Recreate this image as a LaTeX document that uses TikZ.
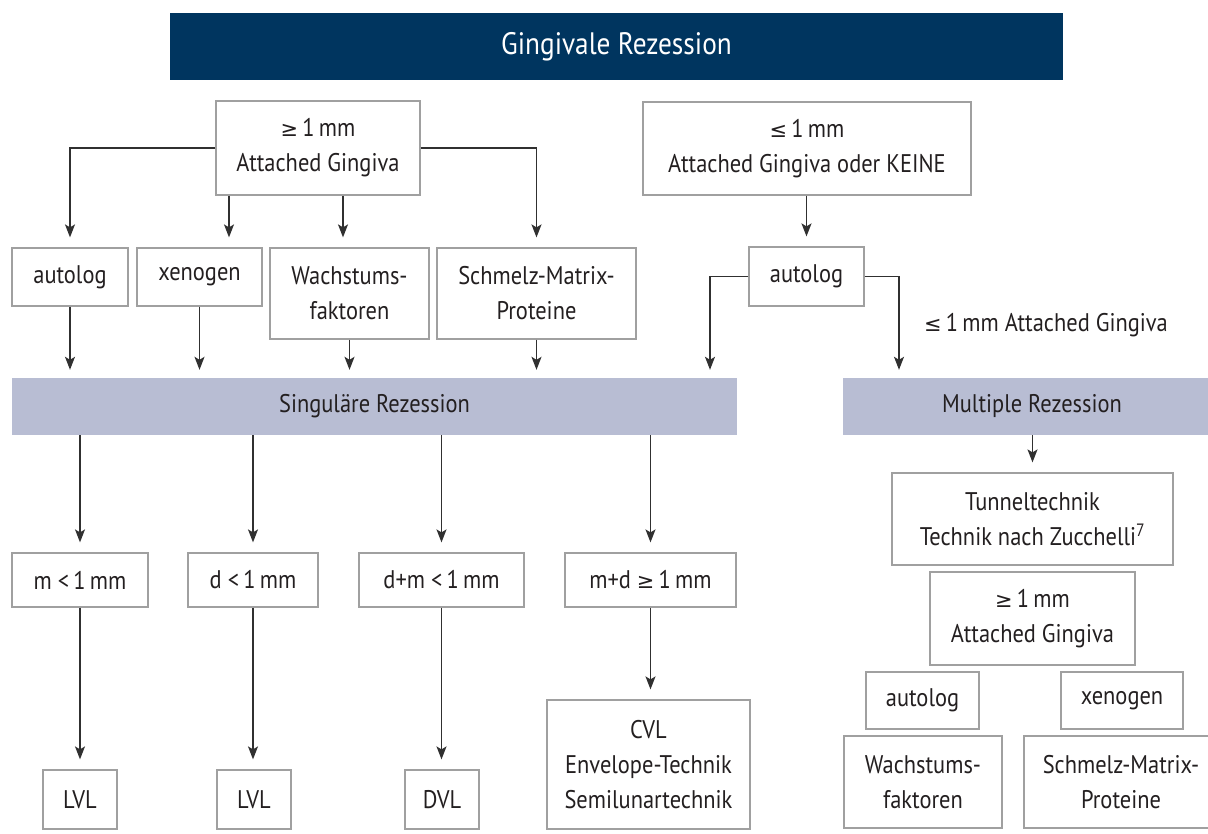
\documentclass[tikz,border=0pt]{standalone}
\usepackage{fontspec}
\setmainfont{PT Sans}[FakeStretch=0.88]
\newfontfamily\symf{DejaVu Sans}[Scale=0.82]
\newcommand\gesym{{\symf ≥}}
\newcommand\lesym{{\symf ≤}}
\usetikzlibrary{arrows.meta}
\definecolor{navy}{HTML}{00355F}
\definecolor{barblue}{HTML}{B8BDD3}
\definecolor{boxgray}{HTML}{A0A0A0}
\definecolor{linegray}{HTML}{303030}
\definecolor{txt}{HTML}{231F20}
\newcommand\fs{\fontsize{25.5}{35}\selectfont}
\newcommand\mybox[6]{\node[box, minimum width=#4pt, minimum height=#5pt] (#1) at (#2,#3) {#6};}
\tikzset{
  box/.style={draw=boxgray, line width=1.2pt, fill=white, inner sep=0pt, align=center, font=\fs, text=txt},
  bar/.style={fill=barblue, inner sep=0pt, font=\fs, text=txt},
  arr/.style={draw=linegray, line width=1.4pt, -{Stealth[length=13pt,width=10pt,inset=3pt]}},
}
\begin{document}
\begin{tikzpicture}[x=1pt,y=-1pt]
\useasboundingbox (0,0) rectangle (1208,834);
% title
\node[fill=navy, minimum width=893pt, minimum height=67pt, inner sep=0pt, text=white, font=\fontsize{31}{36}\selectfont] (title) at (616.5,46.5) {Gingivale Rezession};
% top boxes
\mybox{A}{318}{148}{204}{94}{\gesym\,1\,mm\\Attached Gingiva}
\mybox{B}{807}{148.5}{328}{93}{\lesym\,1\,mm\\Attached Gingiva oder KEINE}
% row 2
\mybox{aut1}{70}{277}{116}{58}{autolog}
\mybox{xen1}{199.5}{277}{125}{58}{xenogen}
\mybox{wac1}{349.5}{293.5}{159}{91}{Wachstums-\\faktoren}
\mybox{sch1}{536.5}{293.5}{199}{91}{Schmelz-Matrix-\\Proteine}
\mybox{aut2}{806.5}{276.5}{115}{59}{autolog}
% label
\node[font=\fs, text=txt, inner sep=0pt] (lab) at (1046,325) {\lesym\,1\,mm Attached Gingiva};
% bars
\node[bar, minimum width=725pt, minimum height=57pt] (sing) at (374.5,406.5) {Singuläre Rezession};
\node[bar, minimum width=378pt, minimum height=57pt] (mult) at (1032,406.5) {Multiple Rezession};
% row 3
\mybox{r1}{80}{580}{136}{54}{m <\,1\,mm}
\mybox{r2}{253}{580}{130}{54}{d <\,1\,mm}
\mybox{r3}{441.5}{580}{165}{54}{d+m <\,1\,mm}
\mybox{r4}{650.5}{580}{171}{54}{m+d \gesym\,1\,mm}
% bottom row
\mybox{b1}{80}{799.5}{74}{59}{LVL}
\mybox{b2}{254}{799.5}{74}{59}{LVL}
\mybox{b3}{442}{799.5}{74}{59}{DVL}
\mybox{b4}{648.5}{764.5}{203}{129}{CVL\\Envelope-Technik\\Semilunartechnik}
% right column
\mybox{tun}{1032.5}{519}{281}{92}{Tunneltechnik\\Technik nach Zucchelli\textsuperscript{7}}
\mybox{ag}{1032.5}{618.5}{205}{93}{\gesym\,1\,mm\\Attached Gingiva}
\mybox{aut3}{922.5}{700.5}{113}{57}{autolog}
\mybox{xen3}{1122}{700.5}{122}{57}{xenogen}
\mybox{wac3}{923}{782}{158}{92}{Wachstums-\\faktoren}
\mybox{sch3}{1121}{782}{194}{92}{Schmelz-Matrix-\\Proteine}
% helper coordinates
\coordinate (xa) at (229,0);
\coordinate (xw) at (343,0);
\coordinate (xl) at (710,0);
\coordinate (xr) at (899,0);
% connectors from A
\draw[arr, shorten >=10pt] (A.west) -| (aut1.north);
\draw[arr, shorten >=10pt] (A.south -| xa) -- (xen1.north -| xa);
\draw[arr, shorten >=10pt] (A.south -| xw) -- (wac1.north -| xw);
\draw[arr, shorten >=10pt] (A.east) -| (sch1.north);
% from B
\draw[arr, shorten >=10pt] (B.south -| aut2.north) -- (aut2.north);
% row 2 to singular bar
\draw[arr, shorten >=8pt] (aut1.south) -- (aut1.south |- sing.north);
\draw[arr, shorten >=8pt] (xen1.south) -- (xen1.south |- sing.north);
\draw[arr, shorten >=8pt] (wac1.south) -- (wac1.south |- sing.north);
\draw[arr, shorten >=8pt] (sch1.south) -- (sch1.south |- sing.north);
\draw[arr, shorten >=8pt] (aut2.west) -| (xl |- sing.north);
\draw[arr, shorten >=8pt] (aut2.east) -| (xr |- mult.north);
% singular bar to row 3
\draw[arr, shorten >=10pt] (sing.south -| r1.north) -- (r1.north);
\draw[arr, shorten >=10pt] (sing.south -| r2.north) -- (r2.north);
\draw[arr, shorten >=10pt] (sing.south -| r3.north) -- (r3.north);
\draw[arr, shorten >=10pt] (sing.south -| r4.north) -- (r4.north);
% row 3 to bottom
\draw[arr, shorten >=10pt] (r1.south) -- (r1.south |- b1.north);
\draw[arr, shorten >=10pt] (r2.south) -- (r2.south |- b2.north);
\draw[arr, shorten >=10pt] (r3.south) -- (r3.south |- b3.north);
\draw[arr, shorten >=10pt] (r4.south) -- (r4.south |- b4.north);
% multiple to tunnel
\draw[arr, shorten >=10pt] (mult.south -| tun.north) -- (tun.north);
\end{tikzpicture}
\end{document}
